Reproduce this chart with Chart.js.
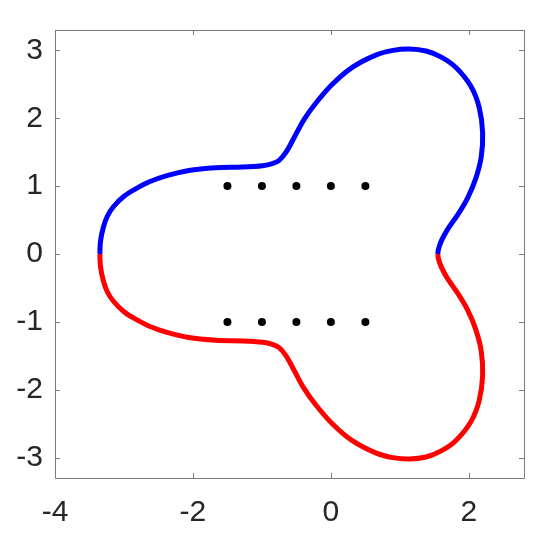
<!DOCTYPE html>
<html>
<head>
<meta charset="utf-8">
<script src="https://cdn.jsdelivr.net/npm/chart.js@4"></script>
<style>
  html, body { margin: 0; padding: 0; background: #fff; }
  #chart { display: block; }
</style>
</head>
<body>
<canvas id="chart" width="550" height="542"></canvas>
<script>
// Контур: общие x, верхняя (синяя) и нижняя (красная) половины
const curveX = [-3.35, -3.34, -3.30, -3.24, -3.15, -3.00, -2.83, -2.64, -2.39, -2.06, -1.67, -1.28, -0.99, -0.85, -0.75, -0.65, -0.53, -0.39, -0.22, 0.02, 0.31, 0.65, 0.90, 1.14, 1.38, 1.60, 1.81, 2.03, 2.15, 2.20, 2.18, 2.10, 1.98, 1.84, 1.69, 1.60, 1.56, 1.55];
const upperY = [0, 0.19, 0.39, 0.56, 0.70, 0.85, 0.96, 1.06, 1.15, 1.23, 1.27, 1.28, 1.30, 1.33, 1.38, 1.50, 1.72, 1.98, 2.22, 2.50, 2.75, 2.93, 3.00, 3.02, 2.99, 2.90, 2.75, 2.47, 2.16, 1.79, 1.43, 1.11, 0.82, 0.58, 0.36, 0.19, 0.07, 0];
const lowerY = [0, -0.19, -0.39, -0.56, -0.70, -0.85, -0.96, -1.06, -1.15, -1.23, -1.27, -1.28, -1.30, -1.33, -1.38, -1.50, -1.72, -1.98, -2.22, -2.50, -2.75, -2.93, -3.00, -3.02, -2.99, -2.90, -2.75, -2.47, -2.16, -1.79, -1.43, -1.11, -0.82, -0.58, -0.36, -0.19, -0.07, 0];

// Точки
const dotsX = [-1.5, -1, -0.5, 0, 0.5, -1.5, -1, -0.5, 0, 0.5];
const dotsY = [1, 1, 1, 1, 1, -1, -1, -1, -1, -1];

// Деления осей
const xTicks = [-4, -2, 0, 2];
const yTicks = [-3, -2, -1, 0, 1, 2, 3];
const xRange = [-4, 2.8];
const yRange = [-3.3, 3.3];

const toPoints = (xs, ys) => xs.map((x, i) => ({ x: x, y: ys[i] }));

// Рамка и внутренние засечки
const boxPlugin = {
    id: 'box',
    afterDraw(chart) {
        const ctx = chart.ctx;
        const a = chart.chartArea;
        const xs = chart.scales.x, ys = chart.scales.y;
        const len = 5;
        ctx.save();
        ctx.strokeStyle = '#7a7a7a';
        ctx.lineWidth = 1;
        ctx.beginPath();
        ctx.rect(Math.round(a.left) + 0.5, Math.round(a.top) + 0.5,
                 Math.round(a.right - a.left), Math.round(a.bottom - a.top));
        xs.ticks.forEach(t => {
            const p = Math.round(xs.getPixelForValue(t.value)) + 0.5;
            ctx.moveTo(p, a.bottom); ctx.lineTo(p, a.bottom - len);
            ctx.moveTo(p, a.top); ctx.lineTo(p, a.top + len);
        });
        ys.ticks.forEach(t => {
            const p = Math.round(ys.getPixelForValue(t.value)) + 0.5;
            ctx.moveTo(a.left, p); ctx.lineTo(a.left + len, p);
            ctx.moveTo(a.right, p); ctx.lineTo(a.right - len, p);
        });
        ctx.stroke();
        ctx.restore();
    }
};

const font = { family: "'Liberation Sans', Arial, Helvetica, sans-serif", size: 30 };

new Chart(document.getElementById('chart').getContext('2d'), {
    type: 'scatter',
    data: {
        datasets: [{
            data: toPoints(curveX, upperY),
            showLine: true,
            borderColor: '#0000ff',
            borderWidth: 5,
            pointRadius: 0,
            tension: 0.35,
            fill: false
        }, {
            data: toPoints(curveX, lowerY),
            showLine: true,
            borderColor: '#ff0000',
            borderWidth: 5,
            pointRadius: 0,
            tension: 0.35,
            fill: false
        }, {
            data: toPoints(dotsX, dotsY),
            showLine: false,
            pointRadius: 4,
            pointBackgroundColor: '#000',
            pointBorderWidth: 0
        }]
    },
    options: {
        responsive: false,
        animation: false,
        layout: { padding: { left: 0, right: 26, top: 23, bottom: 0 } },
        plugins: { legend: { display: false }, tooltip: { enabled: false } },
        scales: {
            x: {
                min: xRange[0],
                max: xRange[1],
                afterBuildTicks: s => { s.ticks = xTicks.map(v => ({ value: v })); },
                afterFit: s => { s.height = 64; },
                grid: { display: false, drawTicks: false },
                border: { display: false },
                ticks: { font: font, color: '#262626', padding: 17, maxRotation: 0 }
            },
            y: {
                min: yRange[0],
                max: yRange[1],
                afterBuildTicks: s => { s.ticks = yTicks.map(v => ({ value: v })); },
                afterFit: s => { s.width = 55; },
                grid: { display: false, drawTicks: false },
                border: { display: false },
                ticks: { font: font, color: '#262626', padding: 12 }
            }
        }
    },
    plugins: [boxPlugin]
});
</script>
</body>
</html>
